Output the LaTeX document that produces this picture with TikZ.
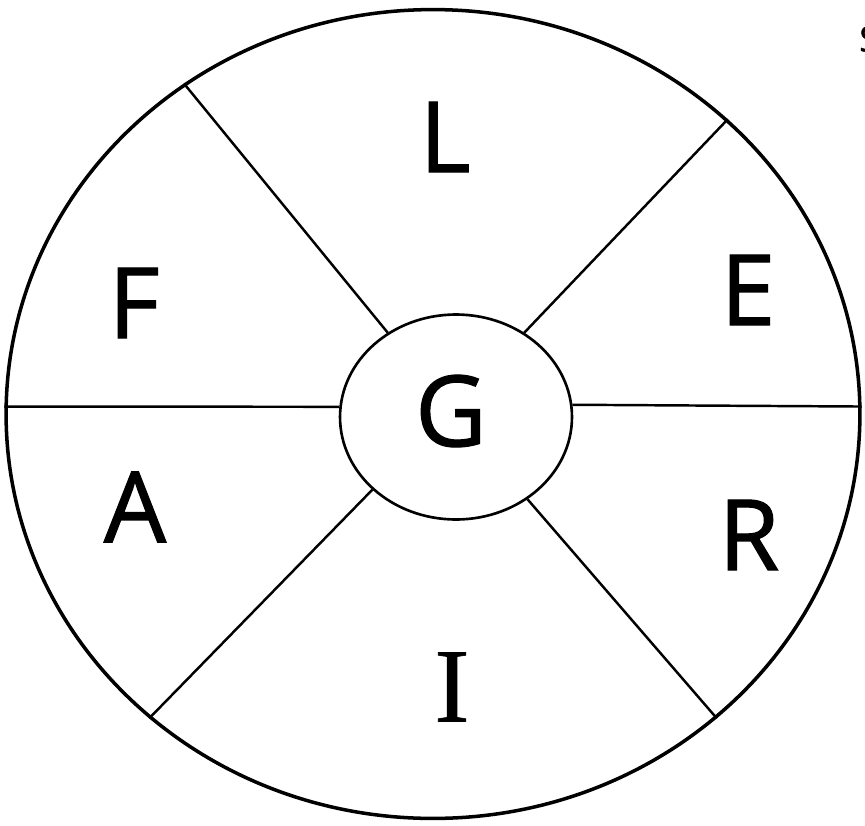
\documentclass[tikz,border=0pt]{standalone}
\usepackage{fontspec}
\setmainfont{Open Sans}
\newfontface\sectorfont[FakeBold=1.2]{Open Sans}
\newfontface\serifletter[FakeBold=0.6]{Liberation Serif}
\usetikzlibrary{shapes.geometric, positioning}
\tikzset{
  % cerchio esterno
  wheelrim/.style={ellipse, draw=black, line width=2pt, minimum width=17.08cm,
    minimum height=16.18cm, inner sep=0pt},
  % ovale centrale
  wheelhub/.style={ellipse, draw=black, line width=1.5pt, minimum width=4.64cm,
    minimum height=4.1cm, inner sep=0pt},
  % raggi
  spoke/.style={line width=1.4pt},
  % lettere dei settori
  sector/.style={font=\sectorfont\fontsize{56}{56}\selectfont, inner sep=0pt},
}
\begin{document}
\begin{tikzpicture}[x=0.02cm, y=-0.02cm]
  \useasboundingbox (0,0) rectangle (865,825);
  \node[wheelrim] (rim) at (433,414) {};
  \node[wheelhub] (hub) at (456,417) {};
  \draw[spoke] (hub.175) -- (rim.179.2);
  \draw[spoke] (hub.6.4) -- (rim.1.6);
  \draw[spoke] (hub.129) -- (rim.127.8);
  \draw[spoke] (hub.51.8) -- (rim.45.4);
  \draw[spoke] (hub.221.3) -- (rim.227.6);
  \draw[spoke] (hub.311.7) -- (rim.313);
  \node[sector] (g) at (451,411) {G};
  \node[sector] (l) at (445,137) {L};
  \node[sector] (e) at (748,290) {E};
  \node[sector] (f) at (134,303) {F};
  \node[sector] (a) at (135,507) {A};
  \node[sector] (r) at (749,535) {R};
  \node[sector, font=\serifletter\fontsize{60}{60}\selectfont] (i) at (452,687) {I};
  \node[anchor=west, inner sep=0pt, font=\sectorfont\fontsize{20}{20}\selectfont] (s) at (859,39) {S};
\end{tikzpicture}
\end{document}
